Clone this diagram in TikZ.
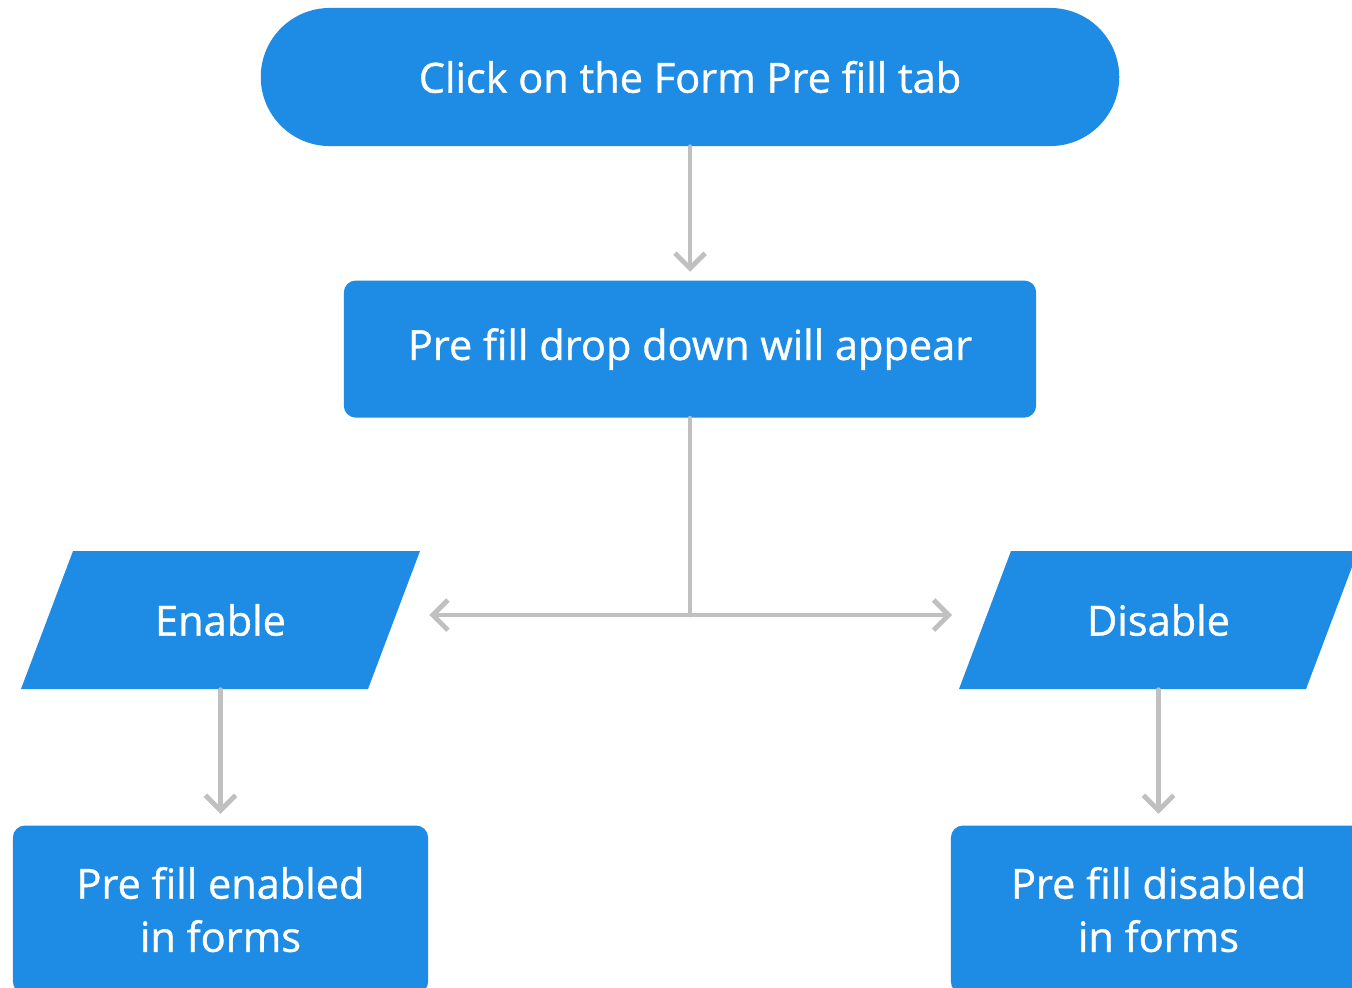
\documentclass[tikz,border=0pt]{standalone}
\usepackage{fontspec}
\setmainfont{Open Sans}[BoldFont=Open Sans,BoldFeatures={FakeBold=0.9}]
\usetikzlibrary{arrows.meta,positioning,backgrounds}
\definecolor{flowblue}{HTML}{1E8BE5}
\definecolor{linegray}{HTML}{C0C0C0}

\begin{document}
\begin{tikzpicture}[
  x=0.01cm, y=-0.01cm,
  font=\fontsize{11.8pt}{15.1pt}\selectfont\bfseries,
  node distance=13.3mm,
  start/.style ={fill=flowblue,text=white,rounded corners=6.9mm,
                 minimum width=85.8mm,minimum height=13.8mm,inner sep=0pt},
  proc/.style  ={fill=flowblue,text=white,rounded corners=1.2mm,align=center,
                 inner sep=0pt},
  choice/.style={text=white,minimum width=34.7mm,minimum height=13.8mm,inner sep=0pt},
  link/.style  ={draw=linegray,line width=1.4pt,line cap=round},
  >={Straight Barb[length=4.3pt,width=8.6pt]}]

\useasboundingbox (0,0) rectangle (1352,987);
\clip (0,0) rectangle (1352,987);

% ---------- Row 1 : start and drop down ----------
\node[start] (tab) at (690,77) {Click on the Form Pre fill tab};
\node[proc, below=of tab, minimum width=69.2mm, minimum height=13.7mm] (drop)
  {Pre fill drop down will appear};

\draw[link,->,shorten >=2.3pt] (tab) -- (drop);

% ---------- Row 2 : choices ----------
\node[choice] (enable)  at (220.5,620)  {Enable};
\node[choice] (disable) at (1158.5,620) {Disable};

\begin{scope}[on background layer]
\foreach \n in {enable,disable}
  \fill[flowblue,shift={(\n.center)}]
    (-199.5,69) -- (147.5,69) -- (199.5,-69) -- (-147.5,-69) -- cycle;
\end{scope}

\coordinate (split) at (690,615);
\draw[link] (drop) -- (split);
\draw[link,->,shorten >=9.8pt] (split) -- (split -| enable.east);
\draw[link,->,shorten >=9.1pt] (split) -- (split -| disable.west);

% ---------- Row 3 : results ----------
\node[proc, below=13.5mm of enable, minimum width=41.5mm, minimum height=16.8mm] (enabled)
  {Pre fill enabled\\in forms};
\node[proc, below=13.5mm of disable, minimum width=41.5mm, minimum height=16.8mm] (disabled)
  {Pre fill disabled\\in forms};

\draw[link,->,shorten >=3.1pt] (enable) -- (enabled);
\draw[link,->,shorten >=3.1pt] (disable) -- (disabled);

\end{tikzpicture}
\end{document}
